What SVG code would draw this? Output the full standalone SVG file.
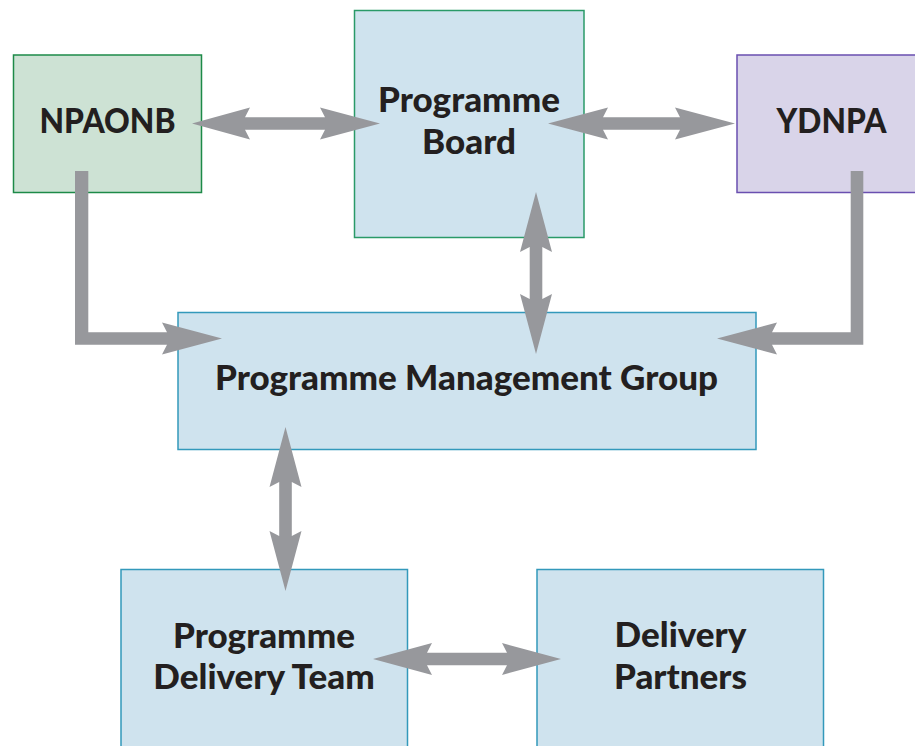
<svg xmlns="http://www.w3.org/2000/svg" width="915" height="746" viewBox="0 0 915 746">
  <style>
    .box { stroke-width: 1.5; }
    .green { fill: #cde2d4; stroke: #1d8a48; }
    .blue { fill: #cfe3ee; stroke: #3399bb; }
    .board { fill: #cfe3ee; stroke: #2a9a68; }
    .purple { fill: #d9d4e9; stroke: #6a4fb0; }
    .label { font-family: "Lato", "Open Sans", "Liberation Sans", sans-serif; font-weight: 900; font-size: 35px; fill: #231f20; text-anchor: middle; }
    .arrow { fill: #97989c; }
  </style>

  <rect width="915" height="746" fill="#ffffff"/>

  <g id="npaonb">
    <rect class="box green" x="13.5" y="55" width="188" height="137.5"/>
    <text class="label" x="107.5" y="133" textLength="136" lengthAdjust="spacingAndGlyphs">NPAONB</text>
  </g>

  <g id="programme-board">
    <rect class="box board" x="354.5" y="10.5" width="229.5" height="227"/>
    <text class="label" x="469" y="112">Programme</text>
    <text class="label" x="469" y="154">Board</text>
  </g>

  <g id="ydnpa">
    <rect class="box purple" x="737" y="55" width="190" height="137.5"/>
    <text class="label" x="831.5" y="133" textLength="110" lengthAdjust="spacingAndGlyphs">YDNPA</text>
  </g>

  <g id="programme-management-group">
    <rect class="box blue" x="178" y="312.5" width="578" height="137"/>
    <text class="label" x="466.5" y="390">Programme Management Group</text>
  </g>

  <g id="programme-delivery-team">
    <rect class="box blue" x="121" y="569.5" width="286.5" height="190"/>
    <text class="label" x="264" y="648">Programme</text>
    <text class="label" x="264" y="689">Delivery Team</text>
  </g>

  <g id="delivery-partners">
    <rect class="box blue" x="537" y="569.5" width="286.5" height="190"/>
    <text class="label" x="680.5" y="647">Delivery</text>
    <text class="label" x="680.5" y="689">Partners</text>
  </g>

  <g id="connectors">
    <!-- NPAONB <-> Programme Board -->
    <path class="arrow" d="M192,123.5 L250,107.5 L245,117.2 L325,117.2 L320,107.5 L380,123.5 L320,139.5 L325,129.8 L245,129.8 L250,139.5 Z"/>
    <!-- Programme Board <-> YDNPA -->
    <path class="arrow" d="M548,123.5 L608,107.5 L603,117.2 L680,117.2 L675,107.5 L735,123.5 L675,139.5 L680,129.8 L603,129.8 L608,139.5 Z"/>
    <!-- Programme Board <-> Management Group -->
    <path class="arrow" d="M536,192 L552,252 L542.3,247 L542.3,299 L552,294 L536,354 L520,294 L529.7,299 L529.7,247 L520,252 Z"/>
    <!-- Management Group <-> Delivery Team -->
    <path class="arrow" d="M285.5,427 L301.5,487 L291.8,482 L291.8,536 L301.5,531 L285.5,591 L269.5,531 L279.2,536 L279.2,482 L269.5,487 Z"/>
    <!-- Delivery Team <-> Delivery Partners -->
    <path class="arrow" d="M373,659 L432,643 L427,652.7 L507,652.7 L502,643 L561,659 L502,675 L507,665.3 L427,665.3 L432,675 Z"/>
    <!-- NPAONB -> Management Group -->
    <path class="arrow" d="M75,171 L88.3,171 L88.3,332.2 L167,332.2 L162,322.5 L222,338.5 L162,354.5 L167,344.8 L75,344.8 Z"/>
    <!-- YDNPA -> Management Group -->
    <path class="arrow" d="M863.3,171 L850.7,171 L850.7,332.2 L772,332.2 L777,322.5 L717,338.5 L777,354.5 L772,344.8 L863.3,344.8 Z"/>
  </g>
</svg>
